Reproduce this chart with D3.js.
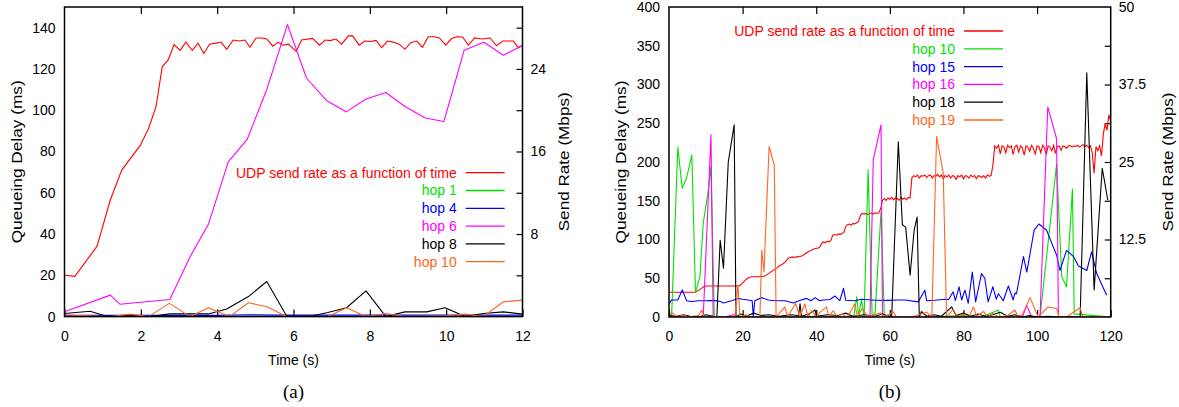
<!DOCTYPE html>
<html>
<head>
<meta charset="utf-8">
<script src="https://cdn.jsdelivr.net/npm/d3@7"></script>
<style>
  body { margin: 0; background: #fff; }
  text { font-family: "Liberation Sans", Arial, sans-serif; }
</style>
</head>
<body>
<svg id="chart" width="1179" height="407"></svg>
<script>
// ---- panel (a) data: time in s, delay in ms, send rate in Mbps
var timeA = [0,0.27,0.85,1.2,1.5,1.98,2.2,2.4,2.56,2.72,2.87,3.03,3.18,3.35,3.5,3.65,3.8,3.98,4.1,4.25,4.42,4.58,4.73,4.86,5.02,5.17,5.3,5.46,5.6,5.72,5.87,6.07,6.21,6.5,6.68,6.83,6.96,7.11,7.26,7.44,7.55,7.72,7.87,8.02,8.16,8.31,8.46,8.61,8.77,8.92,9.07,9.23,9.38,9.53,9.68,9.82,9.99,10.14,10.28,10.43,10.58,10.75,10.93,11.15,11.32,11.48,11.76,11.89,12];
var sendRateA = [4.0,3.9,6.8,11.3,14.2,16.56,18.2,20.36,24.2,24.9,26.36,25.8,26.6,25.8,26.5,25.5,26.4,26.5,26.6,25.9,26.8,26.7,26.8,26.1,27.0,27.0,26.9,26.2,26.6,26.3,26.4,25.7,26.8,26.96,26.3,26.8,26.74,26.9,26.4,27.2,27.2,26.3,26.7,26.66,26.76,26.06,26.7,26.6,26.4,25.9,26.54,26.7,26.1,27.12,27.12,27.0,26.3,26.94,27.12,27.1,26.3,27.0,26.9,27.0,26.24,26.7,26.7,26.06,26.3];
var hop1A = [[0,0.1],[3,0.1],[6,0.2],[9,0.1],[12,0.1]];
var hop4A = [[0,0.6],[4,0.6],[4.8,0.9],[5.5,0.7],[12,0.7]];
var hop6A = [[0,2.3],[1.2,10.4],[1.45,6],[2.76,8.3],[3.29,29],[3.77,44.7],[4.29,75],[4.79,86],[5.3,110],[5.84,141.5],[6.34,115.6],[6.87,104.6],[7.38,99.2],[7.9,105.4],[8.42,108.6],[8.92,101.8],[9.45,96.2],[9.94,94.5],[10.47,129],[10.99,132.9],[11.5,126.6],[12,131.3]];
var hop8A = [[0,1.5],[0.67,2.6],[1.1,0.2],[1.64,0.6],[2.24,0],[2.76,1.3],[3.77,1.3],[4.25,3.7],[4.82,9.7],[5.3,17],[5.82,0.3],[6.5,0.4],[6.9,2],[7.39,4.3],[7.9,12.5],[8.42,0],[8.92,2.3],[9.49,2.3],[9.97,4.3],[10.5,0],[10.97,1.5],[11.5,2.3],[12,1.2]];
var hop10A = [[0,0.8],[1.2,0],[1.72,1.2],[2.2,0],[2.75,6.4],[3.29,0],[3.77,4.3],[4.32,0],[4.82,6.7],[5.3,4.8],[5.82,0],[6.9,0],[7.39,4.3],[7.9,0],[8.42,1.5],[8.92,0],[9.97,0.4],[10.5,1.2],[10.97,0],[11.5,7.2],[12,8]];
var legendA = ["UDP send rate as a function of time", "hop 1", "hop 4", "hop 6", "hop 8", "hop 10"];
var xTicksA = [0,2,4,6,8,10,12];
var yTicksA = [0,20,40,60,80,100,120,140];
var y2LabelsA = [8,16,24];
var y2TicksA = [4,8,12,16,20,24,28];

// ---- panel (b) data: send rate sampled every 0.5 s from t = 0
var sendStepB = 0.5;
var sendRateB = [
  4.0,4.0,4.0,4.0,4.0,4.0,4.0,4.0,4.0,4.0,4.0,4.0,4.0,4.0,4.0,4.1,4.3,4.5,4.7,4.9,
  5.0,5.0,5.0,5.0,5.0,5.0,5.0,5.0,5.0,5.0,5.0,5.0,5.0,5.0,5.0,5.0,5.0,5.0,5.0,5.2,
  5.5,5.8,6.1,6.3,6.4,6.5,6.5,6.5,6.5,6.5,6.6,6.5,6.6,6.8,7.0,7.2,7.4,7.6,7.8,8.0,
  8.3,8.4,8.6,8.8,9.2,9.5,9.6,9.7,9.6,9.7,9.7,9.8,9.8,10.0,10.2,10.4,10.6,10.7,10.9,11.0,
  11.1,11.1,11.3,11.9,12.1,12.0,12.2,12.1,12.4,13.2,13.3,13.2,13.4,13.3,13.5,13.6,14.6,14.9,15.0,14.8,
  15.1,15.0,15.2,15.4,16.4,16.7,16.6,16.7,16.5,16.7,16.8,16.6,16.8,16.7,16.8,17.5,18.8,19.1,18.8,19.2,
  19.0,19.3,18.9,19.2,19.1,18.8,19.3,19.0,19.2,18.9,19.3,19.2,22.5,22.8,22.6,22.9,22.4,22.8,22.7,22.9,
  22.5,22.8,22.9,22.4,22.8,22.7,23.0,22.6,22.9,22.3,22.8,22.6,22.9,22.4,22.8,22.7,22.2,22.8,22.6,22.9,
  22.3,22.8,22.7,22.4,22.9,22.6,22.8,22.3,22.8,22.7,22.5,22.8,22.4,22.9,22.7,22.8,24.5,27.6,27.2,27.7,
  26.3,27.6,27.4,26.5,27.7,27.3,27.6,26.2,27.5,27.7,26.6,27.6,27.3,26.1,27.6,27.4,26.7,27.7,27.2,26.3,
  27.6,27.5,26.5,27.7,27.3,26.2,27.6,27.4,26.8,27.7,26.4,27.5,27.6,26.9,27.6,27.5,27.2,27.6,27.7,27.4,
  27.6,27.5,27.7,27.4,27.6,27.8,27.5,27.7,27.3,27.6,26.4,23.2,27.5,26.8,27.6,26.0,29.5,31.2,30.1,32.6,
  31.5];
var hop10B = [[0,0],[0.7,0],[2.4,219],[3.6,166],[4.8,180],[6.2,209],[7.2,32],[8.4,52],[9.3,121],[10.7,164],[11.4,194],[12.3,0],[20,1],[30,0],[40,1],[50.2,0],[51,26],[51.5,2],[52.3,22],[53,0],[54.1,190],[55.2,0],[56,6],[57.6,136],[58.5,0],[70,0],[80,2],[85,0],[89.5,9],[90,0],[100.8,0],[105.3,197],[106.7,52],[108,39],[109.6,165],[110.1,4],[120,0]];
var hop15B = [[0,17],[0.7,22],[2.4,22],[3.6,35],[4.8,21],[6,20],[8,21],[10,21],[12,21.5],[14,20],[14.8,18],[17,21],[18.8,24],[20,23],[21.5,22],[22.6,21],[22.9,0],[23.3,21],[25.2,25],[27,22],[28.8,21],[31.5,21],[33.8,18],[35.7,21.7],[37.4,24],[38.6,21],[39.7,25],[40.9,21],[41.9,22],[43.7,22.5],[45.1,27],[46.4,21],[47.4,37],[48,21.7],[50.5,21],[52.3,23],[56,21.7],[60,21.5],[62,22],[64.1,22],[67.7,19.5],[69.5,34.6],[70,21],[72.3,21.7],[75,23],[76,22.5],[77.2,32.5],[77.8,21],[78.8,39],[79.5,22],[80.4,34.6],[81.3,17.7],[82.4,58],[83.3,19.5],[84.9,56],[85.8,50],[86.7,19.5],[87.7,34.6],[88,39],[88.9,23],[89.5,30],[90.8,21],[92.2,40],[93.5,22],[94,31],[94.4,30],[96.3,78],[97.2,58],[98.1,82],[99.2,112],[100.5,120],[102.6,112],[104,95],[105.3,80],[106.2,60],[108,86],[109.9,78],[111.2,66],[113.5,60],[114.8,84],[116.2,56],[118.9,28]];
var hop16B = [[0,0],[9.3,0],[11.4,235],[12,0],[15,0],[17.5,3],[18,0],[30,0],[54.6,0],[55.5,203],[57.6,248],[58,0],[96,0],[97.2,15],[98.5,0],[100.8,0],[102.9,271],[105.3,230],[105.8,0],[120,0]];
var hop18B = [[0,2],[2,1],[4,3],[5.7,1],[8,0],[10,3],[12,1],[13,0.5],[13.9,99],[14.8,63],[16.1,200],[17.7,248],[18.2,0],[19.5,4],[21,1],[23,5],[25,2],[27,3],[30,1],[33,3],[35.2,2],[35.6,17],[36,1],[38,4],[39.7,9],[40,1],[43,3],[46,2],[48,5],[50,1],[53,3],[56,1],[58,4],[60.5,0],[62.3,226],[63.4,119],[64.3,116],[65.5,54],[66.6,112],[67.4,129],[68,0],[68.6,7],[70,1],[72,3],[74,1],[76.8,13],[78,2],[80,5],[82,1],[84,4],[86,1],[88,3],[90,6],[92,1],[94,3],[96,0],[98,2],[100,0],[103,1],[106,0],[111.7,0],[113.5,315],[115.5,35],[117.7,192],[119.2,151]];
var hop19B = [[0,3],[1,5],[2,0],[4.3,3],[5,0],[8,2],[8.9,9],[9.5,0],[12,1],[14,0],[17.9,0],[18.7,41],[19.3,0],[21,3],[22,0],[24.7,0],[25.2,86],[25.8,58],[27.2,220],[28.6,196],[29.1,0],[31.5,13],[32.2,0],[33.2,8],[34.4,17.5],[35.5,0],[36.9,17],[37.8,0],[38.8,8],[40,0],[41,6],[42.8,13],[43.4,0],[44.6,8],[45.8,0],[47,4],[48.5,0],[50.5,17],[51.2,0],[52.5,11],[54,1],[57.6,5],[58.5,0],[60.9,6.6],[61.8,0],[66,0],[70,6],[71.4,0],[72.7,233],[74.5,186],[75.4,0],[77.2,10],[78.3,0],[80,4],[81.5,0],[82.7,13],[83.6,1],[85.5,7],[86.5,0],[88,5],[89.5,0],[92,2],[94,9],[94.8,0],[96,3],[98.1,25],[100.3,0],[103,13],[105.3,11],[106,0],[108,0],[111.7,12],[112.4,0],[120,0]];
var legendB = ["UDP send rate as a function of time", "hop 10", "hop 15", "hop 16", "hop 18", "hop 19"];
var xTicksB = [0,20,40,60,80,100,120];
var yTicksB = [0,50,100,150,200,250,300,350,400];
var y2LabelsB = [12.5,25,37.5,50];
var y2TicksB = [6.25,12.5,18.75,25,31.25,37.5,43.75];

var colors = ["#ff0000", "#00e000", "#0000ff", "#ff00ff", "#000000", "#ff6420"];

var svg = d3.select("#chart");

function drawPanel(p) {
  var x = d3.scaleLinear().domain(p.xDomain).range([p.left, p.right]);
  var y = d3.scaleLinear().domain(p.yDomain).range([p.bottom, p.top]);
  var y2 = d3.scaleLinear().domain(p.y2Domain).range([p.bottom, p.top]);
  var g = svg.append("g");
  var plain = function(d) { return String(d); };

  // bottom axis, ticks inside
  g.append("g")
      .attr("transform", "translate(0," + p.bottom + ")")
      .call(d3.axisBottom(x).tickValues(p.xTicks).tickFormat(plain).tickSizeInner(-7).tickSizeOuter(0).tickPadding(14))
      .call(styleAxis);
  // mirrored top ticks
  g.append("g")
      .attr("transform", "translate(0," + p.top + ")")
      .call(d3.axisTop(x).tickValues(p.xTicks.slice(1, -1)).tickFormat("").tickSizeInner(-7).tickSizeOuter(0))
      .call(styleAxis);
  // left labels
  g.append("g")
      .attr("transform", "translate(" + p.left + ",0)")
      .call(d3.axisLeft(y).tickValues(p.yTicks).tickFormat(plain).tickSize(0).tickPadding(9))
      .call(styleAxis);
  // right axis
  g.append("g")
      .attr("transform", "translate(" + p.right + ",0)")
      .call(d3.axisRight(y2).tickValues(p.y2Ticks).tickFormat("").tickSizeInner(-6).tickSizeOuter(0))
      .call(styleAxis);
  g.append("g")
      .attr("transform", "translate(" + p.right + ",0)")
      .call(d3.axisRight(y2).tickValues(p.y2Labels).tickFormat(plain).tickSize(0).tickPadding(8))
      .call(styleAxis);

  var clipId = "clip" + p.name;
  svg.append("clipPath").attr("id", clipId)
    .append("rect").attr("x", p.left).attr("y", p.top)
      .attr("width", p.right - p.left).attr("height", p.bottom - p.top);

  var plot = g.append("g").attr("clip-path", "url(#" + clipId + ")");
  var line = d3.line().x(function(d) { return x(d[0]); }).y(function(d) { return y(d[1]); });
  var line2 = d3.line().x(function(d) { return x(d[0]); }).y(function(d) { return y2(d[1]); });

  plot.append("path")
      .attr("d", line2(p.send))
      .attr("fill", "none").attr("stroke", colors[0]).attr("stroke-width", 1.1);
  p.hops.forEach(function(h, i) {
    plot.append("path")
        .attr("d", line(h))
        .attr("fill", "none").attr("stroke", colors[i + 1]).attr("stroke-width", 1.1)
        .attr("stroke-linejoin", "round");
  });

  // frame
  g.append("rect")
      .attr("x", p.left).attr("y", p.top)
      .attr("width", p.right - p.left).attr("height", p.bottom - p.top)
      .attr("fill", "none").attr("stroke", "#000").attr("stroke-width", 1.5);

  // legend
  var leg = g.append("g").selectAll("g")
    .data(p.legend)
    .enter().append("g")
      .attr("transform", function(d, i) { return "translate(0," + (p.legendY + i * 17.8) + ")"; });
  leg.append("text")
      .attr("x", p.legendX)
      .attr("dy", "0.35em")
      .attr("text-anchor", "end")
      .attr("font-size", 14)
      .attr("fill", function(d, i) { return colors[i]; })
      .text(function(d) { return d; });
  leg.append("line")
      .attr("x1", p.legendX + 9).attr("x2", p.legendX + 48)
      .attr("stroke", function(d, i) { return colors[i]; })
      .attr("stroke-width", 1.3);

  // axis titles (gnuplot stretches the rotated ones a little)
  var cy = (p.top + p.bottom) / 2;
  g.append("text")
      .attr("transform", "translate(" + p.yLabelX + "," + cy + ") rotate(-90)")
      .attr("text-anchor", "middle").attr("dy", "0.35em").attr("font-size", 15)
      .attr("textLength", 163).attr("lengthAdjust", "spacingAndGlyphs")
      .text("Queueing Delay (ms)");
  g.append("text")
      .attr("transform", "translate(" + p.y2LabelX + "," + cy + ") rotate(-90)")
      .attr("text-anchor", "middle").attr("dy", "0.35em").attr("font-size", 15)
      .attr("textLength", 139).attr("lengthAdjust", "spacingAndGlyphs")
      .text("Send Rate (Mbps)");
  var cx = (p.left + p.right) / 2;
  g.append("text")
      .attr("x", cx).attr("y", 365)
      .attr("text-anchor", "middle").attr("font-size", 14)
      .text("Time (s)");
  g.append("text")
      .attr("x", cx).attr("y", 398)
      .attr("text-anchor", "middle").attr("font-size", 19)
      .style("font-family", "'Liberation Serif', 'Times New Roman', serif")
      .text(p.caption);
}

function styleAxis(sel) {
  sel.select(".domain").remove();
  sel.selectAll("line").attr("stroke", "#000").attr("stroke-width", 1.2);
  sel.selectAll("text")
      .attr("font-size", 14)
      .attr("fill", "#000")
      .style("font-family", "'Liberation Sans', Arial, sans-serif");
}

drawPanel({
  name: "a", left: 64.5, right: 522.5, top: 7, bottom: 316.6,
  xDomain: [0, 12], yDomain: [0, 150], y2Domain: [0, 30],
  xTicks: xTicksA, yTicks: yTicksA, y2Ticks: y2TicksA, y2Labels: y2LabelsA,
  send: timeA.map(function(t, i) { return [t, sendRateA[i]]; }),
  hops: [hop1A, hop4A, hop6A, hop8A, hop10A],
  legend: legendA, legendX: 456.7, legendY: 172.7,
  yLabelX: 17, y2LabelX: 564, caption: "(a)"
});

drawPanel({
  name: "b", left: 669, right: 1110.7, top: 7, bottom: 317,
  xDomain: [0, 120], yDomain: [0, 400], y2Domain: [0, 50],
  xTicks: xTicksB, yTicks: yTicksB, y2Ticks: y2TicksB, y2Labels: y2LabelsB,
  send: sendRateB.map(function(v, i) { return [i * sendStepB, v]; }),
  hops: [hop10B, hop15B, hop16B, hop18B, hop19B],
  legend: legendB, legendX: 955, legendY: 31,
  yLabelX: 621, y2LabelX: 1168, caption: "(b)"
});
</script>
</body>
</html>
